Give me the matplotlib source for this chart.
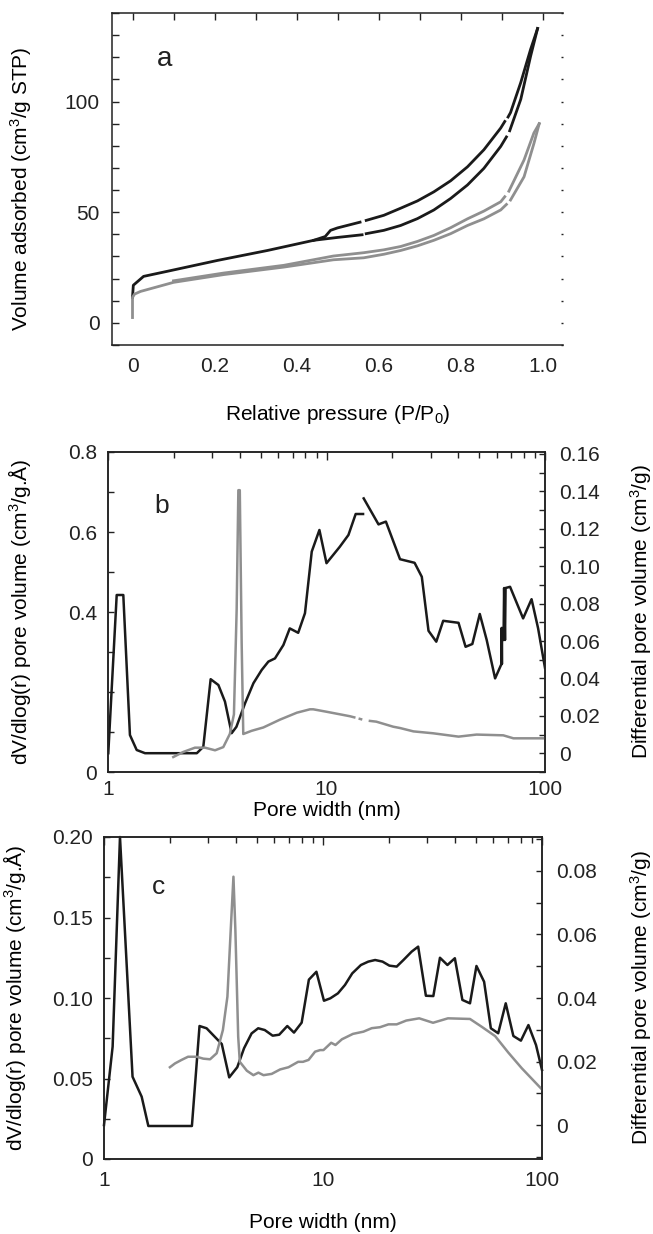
import numpy as np
import matplotlib
matplotlib.use('Agg')
import matplotlib.pyplot as plt
from matplotlib.ticker import MultipleLocator, FixedLocator, FixedFormatter, LogLocator, NullFormatter

plt.rcParams['font.family'] = ['Liberation Sans', 'DejaVu Sans']
plt.rcParams['font.size'] = 15
plt.rcParams['mathtext.fontset'] = 'custom'
plt.rcParams['mathtext.rm'] = 'Liberation Sans'
plt.rcParams['mathtext.it'] = 'Liberation Sans:italic'
plt.rcParams['text.color'] = '#222222'
plt.rcParams['xtick.color'] = '#222222'
plt.rcParams['ytick.color'] = '#222222'

BLACK = '#1a1a1a'
GREY = '#8f8f8f'

# ---- panel a : isotherms
a_blk_ads_x = [0, 0.002, 0.027, 0.085, 0.207, 0.329, 0.442, 0.50, 0.56, np.nan, 0.57, 0.613, 0.654, 0.695, 0.735,
               0.776, 0.817, 0.857, 0.898, 0.912, np.nan, 0.92, 0.947, 0.971, 0.988]
a_blk_ads_y = [11.5, 17, 21, 23.3, 28.2, 32.7, 37.3, 38.6, 39.8, np.nan, 40.3, 41.8, 44, 47.1, 51,
               56.2, 62.3, 69.8, 79.7, 84, np.nan, 86.8, 101, 120.5, 133]
a_blk_des_x = [0.442, 0.47, 0.483, 0.50, 0.555, np.nan, 0.57, 0.613, 0.654, 0.695, 0.735, 0.776, 0.817, 0.857,
               0.898, 0.908, np.nan, 0.916, 0.922, 0.947, 0.971, 0.988]
a_blk_des_y = [37.3, 39, 41.8, 42.9, 45.5, np.nan, 46.3, 48.6, 51.8, 55.1, 59.2, 64.2, 70.5, 78.2,
               88, 91, np.nan, 93, 95, 108.6, 123.6, 133]
a_gry_ads_x = [0, 0, 0.005, 0.0195, 0.1, 0.222, 0.369, 0.49, 0.564, 0.613, 0.654, 0.695, 0.735, 0.776, 0.817,
               0.857, 0.898, 0.912, np.nan, 0.922, 0.955, 0.979, 0.992]
a_gry_ads_y = [2.4, 11.5, 13, 14.2, 18.3, 21.8, 25.2, 28.5, 29.4, 31, 32.7, 34.8, 37.3, 40.3, 44,
               47, 51, 53.5, np.nan, 55.5, 66, 81, 90]
a_gry_des_x = [0.1, 0.222, 0.369, 0.49, 0.564, 0.613, 0.654, 0.695, 0.735, 0.776, 0.817, 0.857, 0.898, 0.908,
               np.nan, 0.918, 0.955, 0.979, 0.992]
a_gry_des_y = [19.0, 22.5, 26, 30.2, 31.7, 33, 34.5, 36.8, 39.5, 43, 47, 50.5, 54.7, 57,
               np.nan, 59.5, 73.6, 85.8, 90]

# ---- panel b : pore size distributions
b_blk_x = [1.003, 1.096, 1.175, 1.26, 1.353, 1.477, 2.55, 2.73, 2.95, 3.2, 3.43, 3.68, 3.87, 4.24, 4.63, 5.05, 5.42,
           5.81, 6.35, 6.79, 7.42, 7.97, 8.56, 9.28, 10.0, 11.5, 12.6, 13.6, 14.7, np.nan, 14.8, 17.3, 18.7, 21.7,
           25.3, 27.3, 29.3, 31.8, 34.2, 40.2, 43.3, 46.5, 50.3, 54.1, 59.1, 63.2, 63.3, 63.5, 63.6, 64.6, 65.0,
           65.6, 66.0, 69.2, 79.4, 86.8, 93.0, 100]
b_blk_y = [0.047, 0.4425, 0.4425, 0.0925, 0.055, 0.047, 0.047, 0.063, 0.232, 0.2175, 0.176, 0.097, 0.113, 0.172,
           0.222, 0.255, 0.276, 0.284, 0.3175, 0.359, 0.348, 0.397, 0.551, 0.605, 0.522, 0.563, 0.5925, 0.645,
           0.645, np.nan, 0.684, 0.619, 0.626, 0.532, 0.523, 0.488, 0.353, 0.3258, 0.378, 0.373, 0.313, 0.32,
           0.395, 0.33, 0.234, 0.27, 0.36, 0.27, 0.36, 0.33, 0.46, 0.33, 0.46, 0.463, 0.384, 0.432, 0.359, 0.26]
b_gry_x = [1.99, 2.21, 2.5, 2.78, 3.09, 3.37, 3.61, 3.77, 3.88, 3.95, 4.01, 4.09, 4.16, 4.54, 5.14, 6.13, 7.32,
           8.4, 8.7, 10.0, 12.8, 13.4, np.nan, 14.2, 14.4, np.nan, 15.8, 16.9, 20.2, 21.7, 25.0, 30.7, 40.2,
           48.6, 64.4, 71.7, 100]
b_gry_y = [-0.002, 0.0007, 0.003, 0.003, 0.0016, 0.0033, 0.0103, 0.0208, 0.0768, 0.1406, 0.1406, 0.059, 0.0103,
           0.012, 0.0138, 0.018, 0.0217, 0.0235, 0.0235, 0.0222, 0.0198, 0.0192, np.nan, 0.0184, 0.0182, np.nan,
           0.0173, 0.0169, 0.0142, 0.0135, 0.0117, 0.0107, 0.0089, 0.0100, 0.0096, 0.008, 0.008]

# ---- panel c : pore size distributions
c_blk_x = [1.0, 1.095, 1.183, 1.35, 1.486, 1.594, 2.52, 2.73, 2.94, 3.45, 3.73, 4.06, 4.36, 4.72, 5.06, 5.42,
           5.89, 6.31, 6.87, 7.37, 7.99, 8.62, 9.33, 10.1, 10.8, 11.7, 12.6, 13.6, 14.9, 16.1, 17.3, 18.7, 20.1,
           21.7, 23.3, 25.4, 27.2, 29.5, 31.9, 34.2, 37.0, 40.0, 43.3, 46.9, 50.2, 54.4, 58.4, 63.1, 68.3, 74.0,
           80.1, 86.7, 93.9, 100]
c_blk_y = [0.0211, 0.0698, 0.2, 0.0511, 0.0387, 0.0205, 0.0205, 0.0826, 0.0812, 0.0714, 0.0507, 0.057, 0.0688,
           0.078, 0.0812, 0.0801, 0.0766, 0.0772, 0.0826, 0.0785, 0.0847, 0.1114, 0.1163, 0.0983, 0.0998, 0.1029,
           0.1081, 0.1153, 0.1205, 0.1226, 0.1236, 0.1226, 0.1201, 0.1195, 0.1236, 0.1288, 0.1319, 0.1014,
           0.1012, 0.125, 0.1205, 0.1247, 0.0988, 0.0967, 0.1199, 0.1101, 0.0812, 0.0781, 0.0967, 0.0764,
           0.0735, 0.0832, 0.0708, 0.0553]
c_gry_x = [2.0, 2.11, 2.26, 2.42, 2.65, 2.84, 3.05, 3.27, 3.49, 3.66, 3.79, 3.9, 3.98, 4.1, 4.17, 4.49, 4.81,
           5.07, 5.35, 5.83, 6.37, 6.96, 7.7, 8.1, 8.59, 9.2, 9.7, 10.05, 10.9, 11.4, 12.2, 13.7, 15.3, 16.7,
           18.2, 19.9, 21.7, 24.0, 27.5, 31.8, 37.2, 46.9, 52.9, 61.1, 70.2, 80.8, 100]
c_gry_y = [0.0182, 0.0194, 0.0205, 0.0215, 0.0215, 0.0209, 0.0207, 0.0226, 0.0299, 0.0404, 0.0614, 0.0782,
           0.0614, 0.0278, 0.0199, 0.0171, 0.0157, 0.0165, 0.0157, 0.0161, 0.0175, 0.0182, 0.0199, 0.0199,
           0.0205, 0.0231, 0.0236, 0.0236, 0.0259, 0.0252, 0.027, 0.0287, 0.0294, 0.0305, 0.0308, 0.0317,
           0.0317, 0.0329, 0.0336, 0.0322, 0.0336, 0.0334, 0.031, 0.028, 0.0228, 0.0179, 0.0112]

W, H = 653, 1234
fig = plt.figure(figsize=(W / 100, H / 100), dpi=100)


def box(l, t, r, b):
    return [l / W, 1 - b / H, (r - l) / W, (b - t) / H]


def style_spines(ax):
    for s in ax.spines.values():
        s.set_linewidth(1.1)
        s.set_color('#222222')


# ================= panel a
ax = fig.add_axes(box(112, 13, 563, 345))
ax.plot(a_blk_ads_x, a_blk_ads_y, color=BLACK, lw=2.0)
ax.plot(a_blk_des_x, a_blk_des_y, color=BLACK, lw=2.0)
ax.plot(a_gry_ads_x, a_gry_ads_y, color=GREY, lw=2.0)
ax.plot(a_gry_des_x, a_gry_des_y, color=GREY, lw=2.0)
ax.set_xlim(-0.05, 1.05)
ax.set_ylim(-10, 140)
ax.set_xticks([0, 0.2, 0.4, 0.6, 0.8, 1.0])
ax.set_xticklabels(['0', '0.2', '0.4', '0.6', '0.8', '1.0'])
ax.xaxis.set_minor_locator(MultipleLocator(0.1))
ax.set_yticks([0, 50, 100])
ax.yaxis.set_minor_locator(MultipleLocator(10))
ax.tick_params(axis='x', which='both', top=True, bottom=False, direction='in', length=5, width=1, pad=9)
ax.tick_params(axis='y', which='both', left=True, right=False, direction='in', length=5, width=1, pad=9)
style_spines(ax)
ax.spines['right'].set_visible(False)
axr = ax.twinx()
axr.set_ylim(-10, 140)
axr.yaxis.set_major_locator(MultipleLocator(10))
axr.tick_params(axis='y', direction='in', length=1.5, width=1, labelright=False)
for s in axr.spines.values():
    s.set_visible(False)
ax.set_xlabel('Relative pressure (P/P$_0$)', labelpad=19)
ax.set_ylabel('Volume adsorbed (cm$^3$/g STP)')
ax.yaxis.set_label_coords(-0.172, 0.47)
ax.text(0.117, 0.86, 'a', transform=ax.transAxes, fontsize=20, ha='center', va='center')

# ================= panel b
bx = fig.add_axes(box(108, 452, 545, 772))
bx.plot(b_blk_x, b_blk_y, color=BLACK, lw=1.8)
bx.set_xscale('log')
bx.set_xlim(1, 100)
bx.set_ylim(0, 0.8)
bx.yaxis.set_major_locator(FixedLocator([0, 0.1, 0.2, 0.3, 0.4, 0.5, 0.6, 0.7, 0.8]))
bx.yaxis.set_major_formatter(FixedFormatter(['0', '', '', '', '0.4', '', '0.6', '', '0.8']))
bx2 = bx.twinx()
bx2.plot(b_gry_x, b_gry_y, color=GREY, lw=1.8)
bx2.set_ylim(-0.01, 0.161)
bx2.set_yticks([0, 0.02, 0.04, 0.06, 0.08, 0.10, 0.12, 0.14, 0.16])
bx2.set_yticklabels(['0', '0.02', '0.04', '0.06', '0.08', '0.10', '0.12', '0.14', '0.16'])
bx2.yaxis.set_minor_locator(MultipleLocator(0.01))

# ================= panel c
cx = fig.add_axes(box(104, 837, 542, 1159))
cx.plot(c_blk_x, c_blk_y, color=BLACK, lw=1.8, clip_on=False)
cx.set_xscale('log')
cx.set_xlim(1, 100)
cx.set_ylim(0, 0.2)
cx.set_yticks([0, 0.05, 0.10, 0.15, 0.20])
cx.set_yticklabels(['0', '0.05', '0.10', '0.15', '0.20'])
cx.yaxis.set_minor_locator(MultipleLocator(0.025))
cx2 = cx.twinx()
cx2.plot(c_gry_x, c_gry_y, color=GREY, lw=1.8)
cx2.set_ylim(-0.0107, 0.0907)
cx2.set_yticks([0, 0.02, 0.04, 0.06, 0.08])
cx2.set_yticklabels(['0', '0.02', '0.04', '0.06', '0.08'])
cx2.yaxis.set_minor_locator(MultipleLocator(0.01))

for main, twin, pad_x, lab_left, lab_right, xlpad, letter, lpos in [
        (bx, bx2, 6, -0.172, 1.19, 1, 'b', (0.123, 0.83)),
        (cx, cx2, 9, -0.174, 1.196, 16, 'c', (0.124, 0.846))]:
    main.set_xticks([1, 10, 100])
    main.set_xticklabels(['1', '10', '100'])
    main.xaxis.set_minor_locator(LogLocator(base=10, subs=np.arange(2, 10)))
    main.xaxis.set_minor_formatter(NullFormatter())
    main.tick_params(axis='x', which='major', top=True, bottom=False, direction='in', length=6, width=1, pad=pad_x)
    main.tick_params(axis='x', which='minor', top=True, bottom=False, direction='in', length=4, width=1)
    main.tick_params(axis='y', which='both', left=True, direction='in', length=4, width=1, pad=8)
    twin.tick_params(axis='y', which='both', right=True, direction='in', length=4, width=1, pad=10)
    style_spines(main)
    for s in twin.spines.values():
        s.set_linewidth(1.1)
        s.set_color('#222222')
    main.set_xlabel('Pore width (nm)', labelpad=xlpad)
    main.set_ylabel('dV/dlog(r) pore volume (cm$^3$/g.Å)')
    main.yaxis.set_label_coords(lab_left, 0.5)
    twin.set_ylabel('Differential pore volume (cm$^3$/g)')
    twin.yaxis.set_label_coords(lab_right, 0.5)
    main.text(lpos[0], lpos[1], letter, transform=main.transAxes, fontsize=19, ha='center', va='center')

fig.savefig('out.png', dpi=100)
